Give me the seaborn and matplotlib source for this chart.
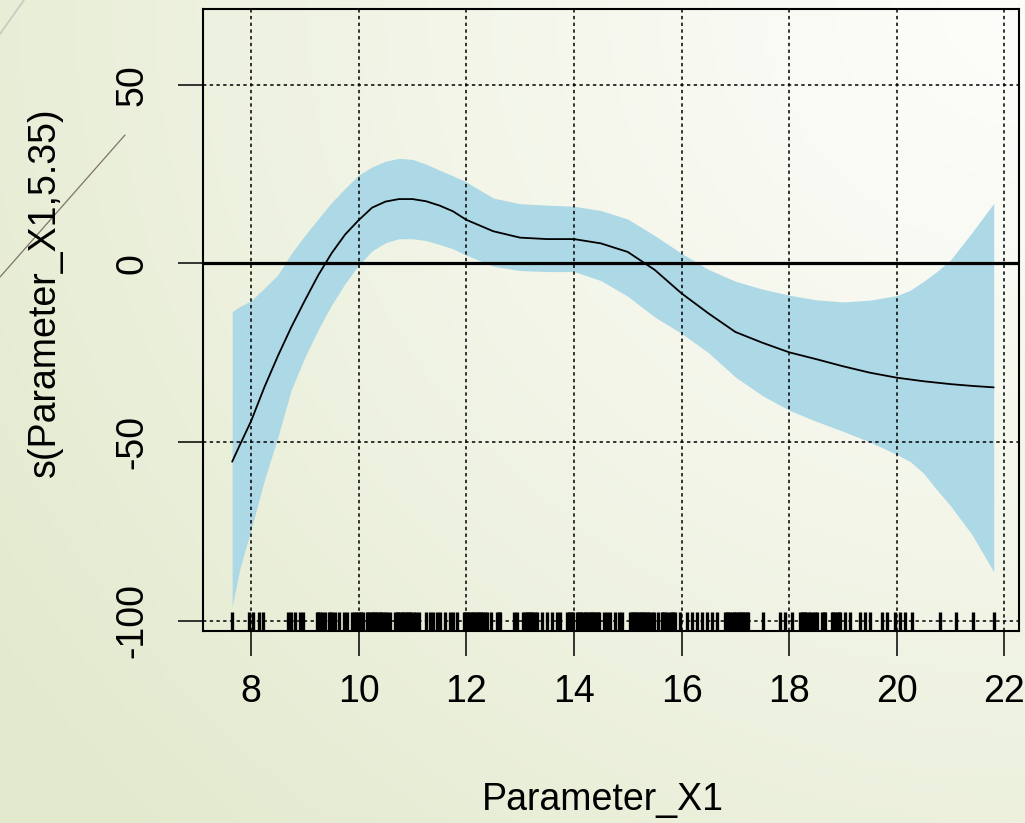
import numpy as np
import matplotlib
matplotlib.use("Agg")
import matplotlib.pyplot as plt
from matplotlib.lines import Line2D
import seaborn as sns

# Smooth term estimate and its confidence band
x_grid = [7.65, 7.8, 8.0, 8.25, 8.5, 8.75, 9.0, 9.25, 9.5, 9.75, 10.0, 10.25,
          10.5, 10.75, 11.0, 11.25, 11.5, 11.75, 12.0, 12.5, 13.0, 13.5, 14.0,
          14.5, 15.0, 15.5, 16.0, 16.5, 17.0, 17.5, 18.0, 18.5, 19.0, 19.5,
          20.0, 20.25, 20.5, 20.75, 21.0, 21.4, 21.8]
fit = [-55.5, -50.6, -44.2, -34.6, -25.9, -17.8, -10.4, -3.3, 2.9, 8.1, 12.1,
       15.6, 17.3, 18.0, 18.0, 17.4, 16.2, 14.6, 12.2, 9.0, 7.2, 6.8, 6.8, 5.6,
       3.2, -1.8, -8.4, -14.0, -19.2, -22.2, -24.9, -26.8, -28.8, -30.6, -32.0,
       -32.5, -33.0, -33.4, -33.8, -34.3, -34.7]
upper = [-13.5, -12.0, -10.5, -6.9, -3.2, 2.8, 7.8, 12.5, 17.1, 21.0, 24.7,
         27.0, 28.6, 29.4, 29.1, 27.8, 26.1, 24.5, 22.8, 18.3, 16.7, 16.3, 16.0,
         14.8, 12.4, 7.8, 2.8, -1.7, -5.0, -7.2, -8.9, -10.2, -10.8, -10.3, -9.0,
         -7.5, -5.0, -2.2, 1.0, 8.7, 16.8]
lower = [-96.1, -85.0, -74.6, -60.6, -48.6, -35.3, -26.3, -18.5, -11.6, -5.6,
         -0.5, 3.5, 5.8, 6.9, 6.9, 6.4, 5.3, 4.1, 2.3, -0.8, -2.0, -2.3, -2.3,
         -4.8, -9.2, -15.0, -19.6, -25.0, -31.8, -37.0, -41.1, -44.2, -47.0,
         -50.0, -53.5, -55.5, -58.8, -63.5, -67.9, -76.0, -86.3]

# Observed covariate values (rug)
rug_x = [7.65, 7.97, 8.03, 8.14, 8.23, 8.68, 8.74, 8.81, 8.91, 8.97,
         9.22, 9.25, 9.28, 9.31, 9.38, 9.44, 9.47, 9.50, 9.56, 9.64, 9.72,
         9.78, 9.87, 9.91, 9.96, 9.99, 10.02, 10.05, 10.09, 10.15, 10.18,
         10.21, 10.24, 10.27, 10.30, 10.33, 10.36, 10.39, 10.42, 10.45, 10.49,
         10.52, 10.58, 10.68, 10.71, 10.74, 10.77, 10.80, 10.83, 10.86, 10.89,
         10.92, 10.95, 10.98, 11.02, 11.07, 11.13, 11.25, 11.33, 11.39, 11.45,
         11.51, 11.61, 11.69, 11.76, 11.82, 11.95, 11.98, 12.01, 12.04, 12.07,
         12.10, 12.13, 12.16, 12.19, 12.22, 12.25, 12.28, 12.31, 12.35, 12.38,
         12.46, 12.57, 12.60, 12.63, 12.88, 12.94, 13.06, 13.09, 13.12, 13.15,
         13.18, 13.21, 13.24, 13.27, 13.31, 13.40, 13.50, 13.59, 13.68, 13.74,
         13.87, 13.90, 13.93, 13.96, 13.99, 14.05, 14.08, 14.11, 14.14, 14.17,
         14.20, 14.23, 14.26, 14.29, 14.32, 14.35, 14.38, 14.41, 14.44, 14.47,
         14.55, 14.61, 14.67, 14.77, 14.83, 14.89, 15.04, 15.07, 15.10, 15.13,
         15.16, 15.19, 15.22, 15.25, 15.28, 15.31, 15.34, 15.37, 15.40, 15.45,
         15.48, 15.57, 15.63, 15.66, 15.70, 15.73, 15.79, 15.82, 15.85, 15.88,
         15.97, 16.10, 16.19, 16.28, 16.38, 16.47, 16.56, 16.66, 16.81, 16.84,
         16.87, 16.90, 16.94, 16.97, 17.00, 17.03, 17.06, 17.09, 17.12, 17.15,
         17.18, 17.21, 17.24, 17.52, 17.83, 17.93, 18.05, 18.20, 18.23, 18.26,
         18.29, 18.32, 18.36, 18.39, 18.45, 18.48, 18.51, 18.61, 18.64, 18.67,
         18.79, 18.82, 18.85, 18.88, 18.92, 18.95, 19.04, 19.13, 19.32, 19.41,
         19.51, 19.72, 19.81, 19.97, 20.06, 20.16, 20.28, 20.81, 21.10, 21.42,
         21.81]

x_ticks = [8, 10, 12, 14, 16, 18, 20, 22]
y_ticks = [-100, -50, 0, 50]
x_label = "Parameter_X1"
y_label = "s(Parameter_X1,5.35)"

sns.set_style("ticks")
plt.rcParams["font.family"] = ["Liberation Sans", "DejaVu Sans"]
plt.rcParams["text.color"] = "black"

W, H, DPI = 1025, 823, 100
fig = plt.figure(figsize=(W / DPI, H / DPI), dpi=DPI)

# Soft slide background: white in the upper right fading to pale green
bg = fig.add_axes([0, 0, 1, 1], zorder=-10)
gx, gy = np.meshgrid(np.linspace(0, 1, 256), np.linspace(0, 1, 206))
dist = np.sqrt(((1 - gx) * 1.0) ** 2 + (gy * 0.85) ** 2)
t = np.clip(dist / 1.25, 0, 1) ** 1.2
c_light = np.array([253, 253, 250]) / 255
c_green = np.array([226, 233, 204]) / 255
img = c_light[None, None, :] * (1 - t[..., None]) + c_green[None, None, :] * t[..., None]
bg.imshow(img, aspect="auto", extent=[0, 1, 0, 1], origin="upper")
bg.axis("off")

# Decorative strokes
fig.add_artist(Line2D([0 / W, 125 / W], [1 - 277 / H, 1 - 135 / H],
                      color="#7d7565", lw=0.9))
fig.add_artist(Line2D([0 / W, 24 / W], [1 - 34 / H, 1 - 0 / H],
                      color="#c9c9c0", lw=1.2))

ax = fig.add_axes([203 / W, 1 - 631 / H, (1019 - 203) / W, (631 - 9) / H])
ax.set_facecolor("none")

ax.fill_between(x_grid, lower, upper, color="lightblue", lw=0, zorder=1)

for xv in x_ticks:
    ax.axvline(xv, color="black", lw=1.1, ls=(0, (2.2, 2.2)), zorder=2)
for yv in y_ticks:
    ax.axhline(yv, color="black", lw=1.1, ls=(0, (2.2, 2.2)), zorder=2)
ax.axhline(0, color="black", lw=2.3, zorder=4)

sns.lineplot(x=x_grid, y=fit, ax=ax, color="black", linewidth=1.3, zorder=5)
sns.rugplot(x=rug_x, ax=ax, height=0.031, color="black", linewidth=2.4,
            alpha=1.0, zorder=3, expand_margins=False)

ax.set_xlim(7.108, 22.27)
ax.set_ylim(-102.9, 71.2)
ax.set_xticks(x_ticks)
ax.set_yticks(y_ticks)
ax.set_xticklabels([str(v) for v in x_ticks])
ax.set_yticklabels([str(v) for v in y_ticks], rotation=90, va="center")

for side in ["top", "right", "bottom", "left"]:
    ax.spines[side].set_visible(True)
    ax.spines[side].set_color("black")
    ax.spines[side].set_linewidth(1.5)
    ax.spines[side].set_zorder(6)

ax.tick_params(axis="both", direction="out", length=18, width=1.1,
               color="black", labelsize=27, labelcolor="black")
ax.tick_params(axis="x", pad=13)
ax.tick_params(axis="y", pad=20)

fig.text(603 / W, 1 - 800 / H, x_label, ha="center", va="center", fontsize=27,
         color="black")
fig.text(45 / W, 1 - 292 / H, y_label, ha="center", va="center", fontsize=27,
         rotation=90, color="black")

fig.savefig("out.png", dpi=DPI)
